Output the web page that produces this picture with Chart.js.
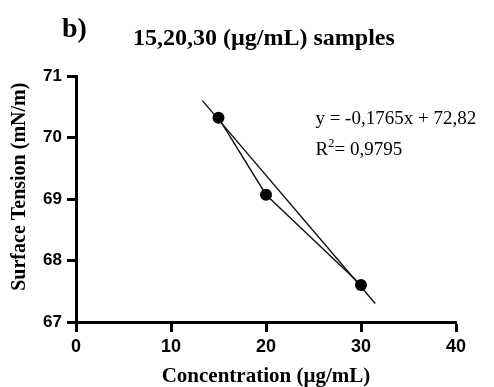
<!DOCTYPE html>
<html>
<head>
<meta charset="utf-8">
<script src="https://cdn.jsdelivr.net/npm/chart.js@4.4.0/dist/chart.umd.min.js"></script>
<style>
  html, body { margin: 0; padding: 0; background: #fff; }
  #wrap { width: 494px; height: 387px; }
</style>
</head>
<body>
<div id="wrap"><canvas id="tensionChart"></canvas></div>
<script>
// measured samples
const concentration = [15, 20, 30];
const surfaceTension = [70.32, 69.07, 67.60];

// linear fit as drawn in the figure
const fitX = [13.3, 31.5];
const fitY = [70.6, 67.3];

const xTicks = [0, 10, 20, 30, 40];
const yTicks = [67, 68, 69, 70, 71];

const panelLabel = 'b)';
const chartTitle = '15,20,30 (\u00b5g/mL) samples';
const yTitle = 'Surface Tension (mN/m)';
const equationText = 'y = -0,1765x + 72,82';
const r2Value = '0,9795';

const serif = '"Liberation Serif", "Times New Roman", serif';

// draws the panel letter, the title, the y title and the fit equation
const textPlugin = {
  id: 'figureText',
  afterDraw(chart) {
    const ctx = chart.ctx;
    const xs = chart.scales.x, ys = chart.scales.y;
    ctx.save();
    ctx.fillStyle = '#000';
    ctx.textBaseline = 'alphabetic';
    ctx.textAlign = 'left';

    ctx.font = 'bold 28px ' + serif;
    ctx.fillText(panelLabel, 62, 37);

    ctx.font = 'bold 24px ' + serif;
    ctx.fillText(chartTitle, 133, 45);

    // rotated y title, a little above the plot centre like the original
    ctx.save();
    ctx.translate(20, ys.getPixelForValue(69.2));
    ctx.rotate(-Math.PI / 2);
    ctx.textAlign = 'center';
    ctx.textBaseline = 'middle';
    ctx.font = 'bold 20px ' + serif;
    ctx.fillText(yTitle, 0, 0);
    ctx.restore();

    // equation, anchored in data space
    const ex = xs.getPixelForValue(25.2);
    ctx.font = '19px ' + serif;
    ctx.fillText(equationText, ex, ys.getPixelForValue(70.22));
    const ry = ys.getPixelForValue(69.72);
    ctx.fillText('R', ex, ry);
    let w = ctx.measureText('R').width;
    ctx.font = '13px ' + serif;
    ctx.fillText('2', ex + w, ry - 8);
    w += ctx.measureText('2').width;
    ctx.font = '19px ' + serif;
    ctx.fillText('= ' + r2Value, ex + w, ry);
    ctx.restore();
  }
};

const ctx = document.getElementById('tensionChart').getContext('2d');
const tensionChart = new Chart(ctx, {
  type: 'scatter',
  data: {
    datasets: [
      {
        label: 'Samples',
        data: concentration.map((c, i) => ({ x: c, y: surfaceTension[i] })),
        showLine: true,
        borderColor: '#111',
        borderWidth: 1.4,
        backgroundColor: '#000',
        pointRadius: 6,
        pointBorderWidth: 0
      },
      {
        label: 'Linear fit',
        data: fitX.map((c, i) => ({ x: c, y: fitY[i] })),
        showLine: true,
        borderColor: '#111',
        borderWidth: 1.4,
        pointRadius: 0
      }
    ]
  },
  options: {
    responsive: true,
    maintainAspectRatio: false,
    animation: false,
    layout: { padding: { top: 76, right: 38, left: 0, bottom: 0 } },
    plugins: {
      legend: { display: false },
      tooltip: { enabled: false }
    },
    scales: {
      x: {
        type: 'linear',
        min: 0,
        max: 40,
        afterBuildTicks: (s) => { s.ticks = xTicks.map(v => ({ value: v })); },
        afterFit: (s) => { s.height = 65; },
        border: { display: true, color: '#000', width: 3 },
        grid: { drawOnChartArea: false, drawTicks: true, tickLength: 10, tickWidth: 3, tickColor: '#000' },
        ticks: {
          color: '#000',
          padding: 4,
          font: { family: '"Liberation Sans", Arial, sans-serif', size: 18, weight: 'bold' }
        },
        title: {
          display: true,
          text: 'Concentration (\u00b5g/mL)',
          color: '#000',
          padding: { top: 0, bottom: -2 },
          font: { family: serif, size: 21, weight: 'bold', lineHeight: 1.2 }
        }
      },
      y: {
        type: 'linear',
        min: 67,
        max: 71,
        afterBuildTicks: (s) => { s.ticks = yTicks.map(v => ({ value: v })); },
        afterFit: (s) => { s.width = 76; },
        border: { display: true, color: '#000', width: 3 },
        grid: { drawOnChartArea: false, drawTicks: true, tickLength: 9, tickWidth: 3, tickColor: '#000' },
        ticks: {
          color: '#000',
          padding: 5,
          font: { family: '"Liberation Sans", Arial, sans-serif', size: 17, weight: 'bold' }
        },
        title: { display: false }
      }
    }
  },
  plugins: [textPlugin]
});
</script>
</body>
</html>
